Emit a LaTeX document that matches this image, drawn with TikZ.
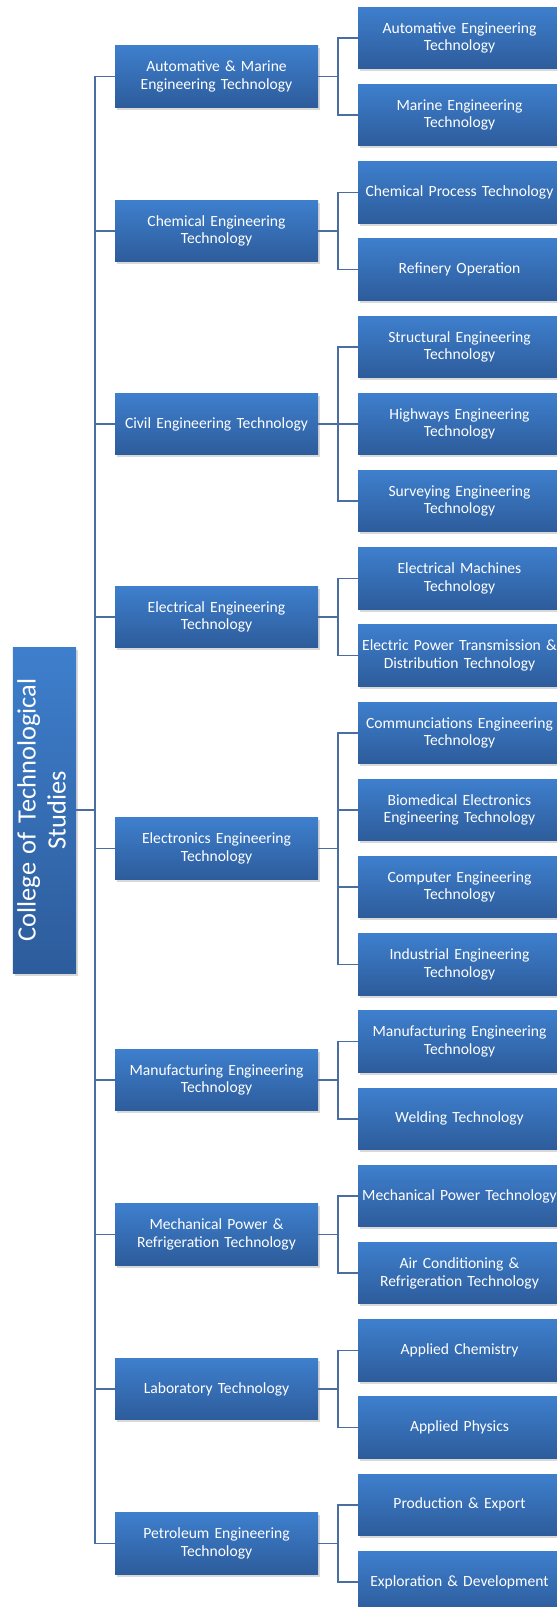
\documentclass[tikz,border=0pt]{standalone}
\usepackage{fontspec}
\setmainfont{Carlito}
\usetikzlibrary{shadows}
\definecolor{boxtop}{RGB}{62,127,205}
\definecolor{boxbot}{RGB}{45,92,155}
\definecolor{linkblue}{RGB}{74,110,162}
\tikzset{ unit/.style = { rectangle
                        , top color     = boxtop
                        , bottom color  = boxbot
                        , text          = white
                        , drop shadow   = {shadow xshift=2bp, shadow yshift=-2.5bp, opacity=0.3}
                        , inner sep     = 0pt
                        , minimum width = 203bp
                        , minimum height = 61.5bp
                        , text width    = 201bp
                        , align         = center
                        , font          = \fontsize{15.6bp}{17.5bp}\selectfont
                        },
          college/.style = { unit
                           , minimum width  = 63bp
                           , minimum height = 326bp
                           , text width     = 63bp
                           , font           = \fontsize{26.4bp}{30bp}\selectfont
                           },
          link/.style = { draw = linkblue
                        , line width = 1.5bp
                        }
        }
\begin{document}
\begin{tikzpicture}[x=1bp, y=-1bp]
    \useasboundingbox (0,0) rectangle (557,1607);
    \clip (0,0) rectangle (557,1607);
    % root
    \node[college] (cts) at (44.5,810)
        {\rotatebox{90}{\begin{tabular}{@{}c@{}}College of Technological\\Studies\end{tabular}}};
    % departments
    \node[unit] (ame) at (216.5,76.6)   {Automative \& Marine\\Engineering Technology};
    \node[unit] (che) at (216.5,231)    {Chemical Engineering\\Technology};
    \node[unit] (civ) at (216.5,424)    {Civil Engineering Technology};
    \node[unit] (ele) at (216.5,617)    {Electrical Engineering\\Technology};
    \node[unit] (eln) at (216.5,848.6)  {Electronics Engineering\\Technology};
    \node[unit] (man) at (216.5,1080.2) {Manufacturing Engineering\\Technology};
    \node[unit] (mpr) at (216.5,1234.6) {Mechanical Power \&\\Refrigeration Technology};
    \node[unit] (lab) at (216.5,1389)   {Laboratory Technology};
    \node[unit] (pet) at (216.5,1543.4) {Petroleum Engineering\\Technology};
    % programmes
    \node[unit] (auto) at (459.5,38)     {Automative Engineering\\Technology};
    \node[unit] (mari) at (459.5,115.2)  {Marine Engineering\\Technology};
    \node[unit] (chpr) at (459.5,192.4)  {Chemical Process Technology};
    \node[unit] (refi) at (459.5,269.6)  {Refinery Operation};
    \node[unit] (stru) at (459.5,346.8)  {Structural Engineering\\Technology};
    \node[unit] (high) at (459.5,424)    {Highways Engineering\\Technology};
    \node[unit] (surv) at (459.5,501.2)  {Surveying Engineering\\Technology};
    \node[unit] (elma) at (459.5,578.4)  {Electrical Machines\\Technology};
    \node[unit] (eptd) at (459.5,655.6)  {Electric Power Transmission \&\\Distribution Technology};
    \node[unit] (comm) at (459.5,732.8)  {Communciations Engineering\\Technology};
    \node[unit] (biom) at (459.5,810)    {Biomedical Electronics\\Engineering Technology};
    \node[unit] (comp) at (459.5,887.2)  {Computer Engineering\\Technology};
    \node[unit] (indu) at (459.5,964.4)  {Industrial Engineering\\Technology};
    \node[unit] (mnfg) at (459.5,1041.6) {Manufacturing Engineering\\Technology};
    \node[unit] (weld) at (459.5,1118.8) {Welding Technology};
    \node[unit] (mpow) at (459.5,1196)   {Mechanical Power Technology};
    \node[unit] (acrf) at (459.5,1273.2) {Air Conditioning \&\\Refrigeration Technology};
    \node[unit] (apch) at (459.5,1350.4) {Applied Chemistry};
    \node[unit] (apph) at (459.5,1427.6) {Applied Physics};
    \node[unit] (prod) at (459.5,1504.8) {Production \& Export};
    \node[unit] (expl) at (459.5,1582)   {Exploration \& Development};
    % trunk
    \draw[link] (cts.east) -- ++(19,0) |- (ame.west);
    \draw[link] (cts.east) -- ++(19,0) |- (che.west);
    \draw[link] (cts.east) -- ++(19,0) |- (civ.west);
    \draw[link] (cts.east) -- ++(19,0) |- (ele.west);
    \draw[link] (cts.east) -- ++(19,0) |- (eln.west);
    \draw[link] (cts.east) -- ++(19,0) |- (man.west);
    \draw[link] (cts.east) -- ++(19,0) |- (mpr.west);
    \draw[link] (cts.east) -- ++(19,0) |- (lab.west);
    \draw[link] (cts.east) -- ++(19,0) |- (pet.west);
    % branches
    \draw[link] (ame.east) -- ++(20,0) |- (auto.west);
    \draw[link] (ame.east) -- ++(20,0) |- (mari.west);
    \draw[link] (che.east) -- ++(20,0) |- (chpr.west);
    \draw[link] (che.east) -- ++(20,0) |- (refi.west);
    \draw[link] (civ.east) -- ++(20,0) |- (stru.west);
    \draw[link] (civ.east) -- ++(20,0) |- (high.west);
    \draw[link] (civ.east) -- ++(20,0) |- (surv.west);
    \draw[link] (ele.east) -- ++(20,0) |- (elma.west);
    \draw[link] (ele.east) -- ++(20,0) |- (eptd.west);
    \draw[link] (eln.east) -- ++(20,0) |- (comm.west);
    \draw[link] (eln.east) -- ++(20,0) |- (biom.west);
    \draw[link] (eln.east) -- ++(20,0) |- (comp.west);
    \draw[link] (eln.east) -- ++(20,0) |- (indu.west);
    \draw[link] (man.east) -- ++(20,0) |- (mnfg.west);
    \draw[link] (man.east) -- ++(20,0) |- (weld.west);
    \draw[link] (mpr.east) -- ++(20,0) |- (mpow.west);
    \draw[link] (mpr.east) -- ++(20,0) |- (acrf.west);
    \draw[link] (lab.east) -- ++(20,0) |- (apch.west);
    \draw[link] (lab.east) -- ++(20,0) |- (apph.west);
    \draw[link] (pet.east) -- ++(20,0) |- (prod.west);
    \draw[link] (pet.east) -- ++(20,0) |- (expl.west);
\end{tikzpicture}
\end{document}
